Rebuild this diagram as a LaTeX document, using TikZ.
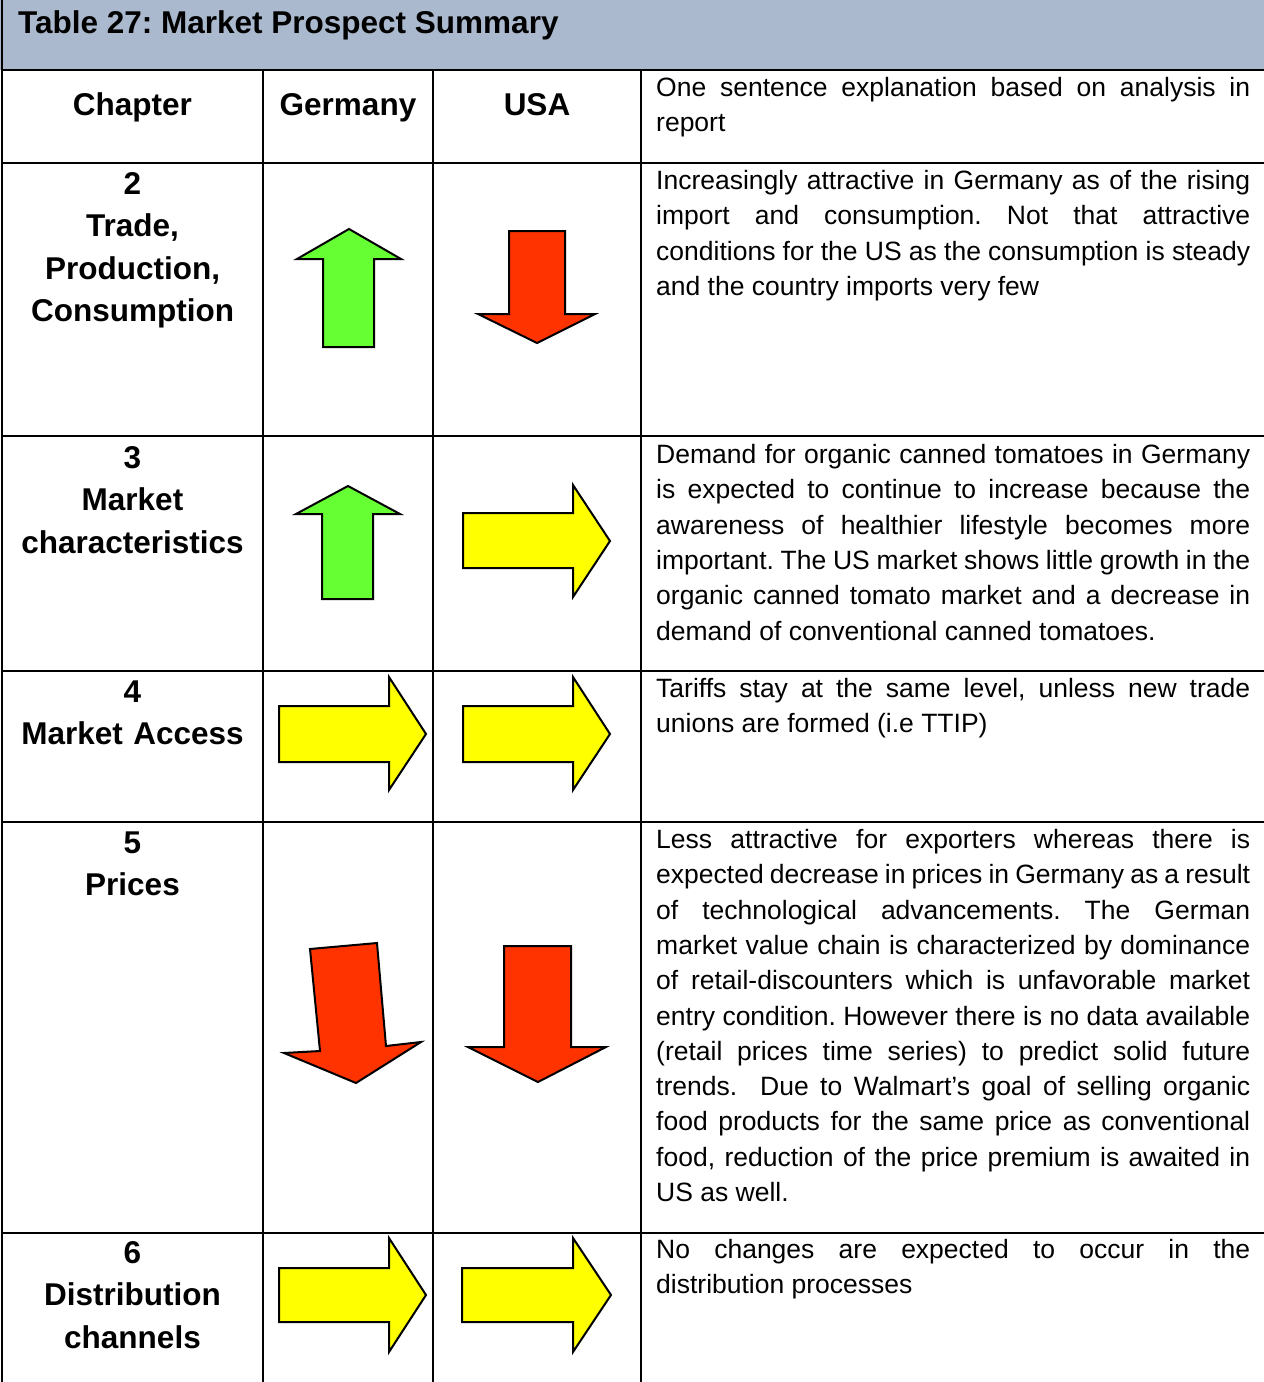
\documentclass[tikz,border=0pt]{standalone}
\usepackage{fontspec}
\setmainfont{Liberation Sans}
\frenchspacing
\definecolor{hdrbg}{RGB}{170,185,205}
\definecolor{upgreen}{RGB}{102,255,51}
\definecolor{downred}{RGB}{255,51,0}
\definecolor{sideyel}{RGB}{255,255,0}
\tikzset{
  gridline/.style={line width=2.2pt, black},
  chap/.style={anchor=base, inner sep=0pt, text width=255pt, align=center,
    font=\fontsize{31.5}{42.5}\selectfont\bfseries},
  expl/.style={anchor=base west, inner sep=0pt, text width=594pt, align=justify,
    font=\fontsize{26.5}{35.3}\selectfont},
  arrowshape/.style={draw=black, line width=2pt, line join=miter},
}
\begin{document}
\begin{tikzpicture}[x=1pt,y=-1pt]
\useasboundingbox (0,0) rectangle (1264,1382);
% title bar
\fill[hdrbg] (0,0) rectangle (1264,70);
\node[anchor=base west, inner sep=0pt, font=\fontsize{31.5}{38}\selectfont\bfseries] (title) at (18,33) {Table 27: Market Prospect Summary};
% grid
\draw[gridline] (2,0) -- (2,1382);
\foreach \yy in {70,163,436,671,822,1233} \draw[gridline] (2,\yy) -- (1264,\yy);
\foreach \xx in {263,433,641} \draw[gridline] (\xx,70) -- (\xx,1382);
% header row
\node[chap] (hchap) at (132.5,115) {Chapter};
\node[chap, text width=165pt] (hger) at (348,115) {Germany};
\node[chap, text width=200pt] (husa) at (537,115) {USA};
\node[expl] (hexp) at (656,96.5) {\hyphenpenalty=10000 One sentence explanation based on analysis in\linebreak report};
% chapter column
\node[chap] (c2) at (132.5,194) {2\\Trade,\\Production,\\Consumption};
\node[chap] (c3) at (132.5,468) {3\\Market\\characteristics};
\node[chap] (c4) at (132.5,702) {4\\Market Access};
\node[chap] (c5) at (132.5,853) {5\\Prices};
\node[chap] (c6) at (132.5,1263) {6\\Distribution\\channels};
% explanations
\node[expl] (e2) at (656,189.5) {\hyphenpenalty=10000 Increasingly attractive in Germany as of the rising\linebreak
import and consumption. Not that attractive\linebreak
conditions for the US as the consumption is steady\linebreak
and the country imports very few};
\node[expl] (e3) at (656,463.5) {\hyphenpenalty=10000 Demand for organic canned tomatoes in Germany\linebreak
is expected to continue to increase because the\linebreak
awareness of healthier lifestyle becomes more\linebreak
important. The US market shows little growth in the\linebreak
organic canned tomato market and a decrease in\linebreak
demand of conventional canned tomatoes.};
\node[expl] (e4) at (656,697.5) {\hyphenpenalty=10000 Tariffs stay at the same level, unless new trade\linebreak
unions are formed (i.e TTIP)};
\node[expl] (e5) at (656,848.5) {\hyphenpenalty=10000 Less attractive for exporters whereas there is\linebreak
expected decrease in prices in Germany as a result\linebreak
of technological advancements. The German\linebreak
market value chain is characterized by dominance\linebreak
of retail-discounters which is unfavorable market\linebreak
entry condition. However there is no data available\linebreak
(retail prices time series) to predict solid future\linebreak
trends.\ \ Due to Walmart’s goal of selling organic\linebreak
food products for the same price as conventional\linebreak
food, reduction of the price premium is awaited in\linebreak
US as well.};
\node[expl] (e6) at (656,1258.5) {\hyphenpenalty=10000 No changes are expected to occur in the\linebreak
distribution processes};
% arrows: row 2
\filldraw[arrowshape, fill=upgreen] (323,347) -- (323,259) -- (297,259) -- (349,229) -- (401,259) -- (374,259) -- (374,347) -- cycle;
\filldraw[arrowshape, fill=downred] (509,231) -- (565,231) -- (565,314) -- (595,314) -- (537,343) -- (478,314) -- (509,314) -- cycle;
% row 3
\filldraw[arrowshape, fill=upgreen] (322,599) -- (322,514) -- (296,514) -- (348,486) -- (400,514) -- (373,514) -- (373,599) -- cycle;
\filldraw[arrowshape, fill=sideyel] (463,513) -- (573,513) -- (573,485) -- (610,541) -- (573,597) -- (573,568) -- (463,568) -- cycle;
% row 4
\filldraw[arrowshape, fill=sideyel] (279,706) -- (389,706) -- (389,677) -- (426,734) -- (389,790) -- (389,762) -- (279,762) -- cycle;
\filldraw[arrowshape, fill=sideyel] (463,706) -- (573,706) -- (573,677) -- (610,734) -- (573,790) -- (573,762) -- (463,762) -- cycle;
% row 5
\filldraw[arrowshape, fill=downred] (310,949) -- (377,943) -- (386,1046) -- (421,1042) -- (356,1083) -- (284,1053) -- (320,1051) -- cycle;
\filldraw[arrowshape, fill=downred] (504,946) -- (571,946) -- (571,1047) -- (606,1047) -- (538,1082) -- (468,1047) -- (504,1047) -- cycle;
% row 6
\filldraw[arrowshape, fill=sideyel] (279,1268) -- (389,1268) -- (389,1238) -- (426,1295) -- (389,1352) -- (389,1322) -- (279,1322) -- cycle;
\filldraw[arrowshape, fill=sideyel] (462,1268) -- (573,1268) -- (573,1238) -- (611,1295) -- (573,1352) -- (573,1322) -- (462,1322) -- cycle;
\end{tikzpicture}
\end{document}
